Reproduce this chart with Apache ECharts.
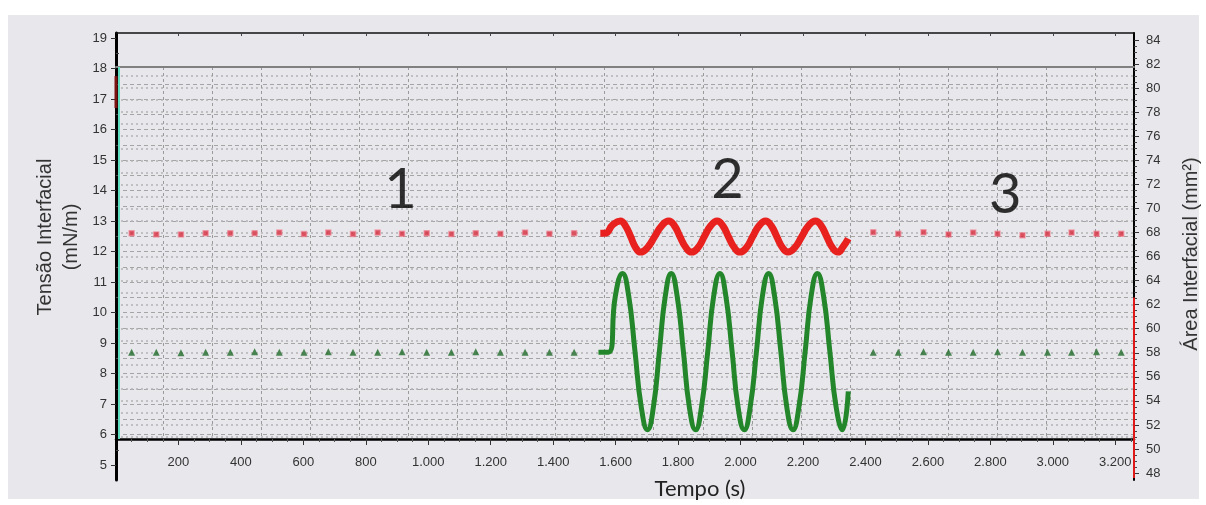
<!DOCTYPE html>
<html>
<head>
<meta charset="utf-8">
<script src="https://cdn.jsdelivr.net/npm/echarts@6/dist/echarts.min.js"></script>
<style>
html,body{margin:0;padding:0;background:#fff;}
#chart{width:1206px;height:505px;}
</style>
</head>
<body>
<div id="chart"></div>
<script>
// ---------------- DATA ----------------
const xTickLabels = [200,400,600,800,1000,1200,1400,1600,1800,2000,2200,2400,2600,2800,3000,3200];
const xMinorTicks = [50,100,150,250,300,350,450,500,550,650,700,750,850,900,950,1050,1100,1150,1250,1300,1350,1450,1500,1550,1650,1700,1750,1850,1900,1950,2050,2100,2150,2250,2300,2350,2450,2500,2550,2650,2700,2750,2850,2900,2950,3050,3100,3150,3250];
const xGridLines = [152,309,466,623,780,937,1094,1251,1408,1565,1722,1879,2036,2193,2350,2507,2664,2821,2978,3135];
const leftTickLabels = [5,6,7,8,9,10,11,12,13,14,15,16,17,18,19];
const leftMinorTicks = [5.5,6.5,7.5,8.5,9.5,10.5,11.5,12.5,13.5,14.5,15.5,16.5,17.5,18.5];
const leftGridLines = [6,6.5,7,7.5,8,8.5,9,9.5,10,10.5,11,11.5,12,12.5,13,13.5,14,14.5,15,15.5,16,16.5,17,17.5];
const rightTickLabels = [48,50,52,54,56,58,60,62,64,66,68,70,72,74,76,78,80,82,84];
const rightMinorTicks = [48.5,49,49.5,50.5,51,51.5,52.5,53,53.5,54.5,55,55.5,56.5,57,57.5,58.5,59,59.5,60.5,61,61.5,62.5,63,63.5,64.5,65,65.5,66.5,67,67.5,68.5,69,69.5,70.5,71,71.5,72.5,73,73.5,74.5,75,75.5,76.5,77,77.5,78.5,79,79.5,80.5,81,81.5,82.5,83,83.5];
const rightGridLines = [51,52,53,54,55,56,57,58,59,60,61,62,63,64,65,66,67,68,69,70,71,72,73,74,75,76,77,78,79,80,81];

// Region 1 (before oscillation)
const region1Time    = [50,129,208,287,366,444,523,602,680,759,838,916,995,1074,1152,1231,1310,1388,1467];
const region1Tension = [12.60,12.56,12.56,12.60,12.60,12.60,12.62,12.57,12.62,12.57,12.62,12.58,12.60,12.57,12.60,12.58,12.62,12.58,12.60];
const region1Area    = [58.05,58.05,58.00,58.05,58.05,58.08,58.05,58.05,58.08,58.05,58.05,58.08,58.05,58.05,58.08,58.05,58.05,58.05,58.05];

// Region 2 (oscillation)
const waveTensionTime = [1551,1567,1591,1615,1631,1648,1664,1680,1702,1725,1748,1770,1788,1806,1825,1843,1864,1884,1905,1925,1943,1961,1980,1998,2019,2039,2060,2080,2098,2116,2134,2152,2174,2196,2218,2240,2258,2276,2294,2312,2328,2345];
const waveTension     = [12.60,12.60,12.88,13.00,12.85,12.49,12.13,11.98,12.13,12.49,12.85,13.00,12.85,12.49,12.13,11.98,12.13,12.49,12.85,13.00,12.85,12.49,12.13,11.98,12.13,12.49,12.85,13.00,12.85,12.49,12.13,11.98,12.13,12.49,12.85,13.00,12.85,12.49,12.13,11.98,12.15,12.42];
const waveAreaTime = [1545,1577,1599,1622,1642,1662,1682,1702,1721,1740,1759,1778,1797,1817,1836,1856,1875,1895,1914,1934,1953,1973,1992,2012,2031,2051,2070,2090,2109,2129,2148,2168,2187,2207,2226,2246,2266,2286,2306,2326,2345];
const waveArea     = [58.05,58.05,62.7,64.6,62.7,58.1,53.5,51.6,53.5,58.1,62.7,64.6,62.7,58.1,53.5,51.6,53.5,58.1,62.7,64.6,62.7,58.1,53.5,51.6,53.5,58.1,62.7,64.6,62.7,58.1,53.5,51.6,53.5,58.1,62.7,64.6,62.7,58.1,53.5,51.6,54.8];

// Region 3 (after oscillation)
const region3Time    = [2425,2505,2586,2666,2745,2823,2903,2983,3060,3140,3219];
const region3Tension = [12.63,12.58,12.63,12.56,12.62,12.58,12.53,12.58,12.62,12.58,12.58];
const region3Area    = [58.05,58.05,58.08,58.05,58.05,58.08,58.05,58.05,58.05,58.08,58.05];

// Region annotations (time, tension-axis value)
const annotationText = ['1','2','3'];
const annotationTime = [911,1958,2848];
const annotationY    = [14.02,14.34,13.85];

// Cursor / range markers seen on the axes
const cursorTime = [10];
const leftAxisMark = [16.7, 17.75];
const rightAxisMark = [47.6, 62.6];

const X_MAX = 3260;

// ---------------- LAYOUT ----------------
const W = 1206, H = 505;
const PLOT_L = 116, PLOT_R = 1134;
const OUT_TOP = 33, OUT_BOT = 480;
const IN_TOP = 67, IN_BOT = 439;
const leftAt  = y => 19 - (y - 38) / 30.5;
const rightAt = y => 84 - (y - 40) / 12.03;

const txt = '#333';
const labelFont = 'Liberation Sans, Arial, sans-serif';
const titleFont = '20px "Liberation Sans", Arial, sans-serif';

function fmtX(v){
  if (v >= 1000) { return Math.floor(v/1000) + '.' + String(v % 1000).padStart(3,'0'); }
  return String(v);
}
const zip = (a,b) => a.map((v,i)=>[v,b[i]]);

const chart = echarts.init(document.getElementById('chart'), null, {renderer:'canvas', width:W, height:H});

const option = {
  backgroundColor: '#ffffff',
  animation: false,
  grid: [
    {left: PLOT_L, right: W - PLOT_R, top: OUT_TOP, bottom: H - OUT_BOT, containLabel:false, outerBoundsMode:'none'},
    {left: PLOT_L, right: W - PLOT_R, top: IN_TOP, bottom: H - IN_BOT, containLabel:false, outerBoundsMode:'none'}
  ],
  xAxis: [
    // 0: outer frame top line
    {type:'value', gridIndex:0, position:'top', min:0, max:X_MAX,
      axisLine:{show:true, onZero:false, lineStyle:{color:'#111', width:1.5}},
      axisTick:{show:true, inside:true, length:3, customValues:xTickLabels, lineStyle:{color:'#444'}},
      axisLabel:{show:false}, splitLine:{show:false}},
    // 1: main bottom time axis
    {type:'value', gridIndex:1, position:'bottom', min:0, max:X_MAX,
      axisLine:{show:true, onZero:false, lineStyle:{color:'#000', width:2.5}},
      axisTick:{show:true, length:6, customValues:xTickLabels, lineStyle:{color:'#333', width:1}},
      axisLabel:{show:true, customValues:xTickLabels, formatter:fmtX, margin:17, color:txt, fontSize:13, fontFamily:labelFont},
      splitLine:{show:false}},
    // 2: minor ticks on the time axis
    {type:'value', gridIndex:1, position:'bottom', min:0, max:X_MAX,
      axisLine:{show:false, onZero:false},
      axisTick:{show:true, length:3, customValues:xMinorTicks, lineStyle:{color:'#555', width:1}},
      axisLabel:{show:false}, splitLine:{show:false}},
    // 3: vertical grid lines + grey top line of data area
    {type:'value', gridIndex:1, position:'top', min:0, max:X_MAX,
      axisLine:{show:true, onZero:false, lineStyle:{color:'#808080', width:2}},
      axisTick:{show:false, customValues:xGridLines},
      axisLabel:{show:false},
      splitLine:{show:true, lineStyle:{color:'#9a9a9a', width:1, type:[3,3]}}}
  ],
  yAxis: [
    // 0: left labels
    {type:'value', gridIndex:0, position:'left', min:leftAt(OUT_BOT), max:leftAt(OUT_TOP),
      axisLine:{show:true, onZero:false, lineStyle:{color:'#000', width:3}},
      axisTick:{show:true, length:5, customValues:leftTickLabels, lineStyle:{color:'#333'}},
      axisLabel:{show:true, customValues:leftTickLabels, margin:9, color:txt, fontSize:13, fontFamily:labelFont},
      splitLine:{show:false}},
    // 1: left minor ticks
    {type:'value', gridIndex:0, position:'left', min:leftAt(OUT_BOT), max:leftAt(OUT_TOP),
      axisLine:{show:false, onZero:false},
      axisTick:{show:true, inside:true, length:3, customValues:leftMinorTicks, lineStyle:{color:'#444'}},
      axisLabel:{show:false}, splitLine:{show:false}},
    // 2: right labels
    {type:'value', gridIndex:0, position:'right', min:rightAt(OUT_BOT), max:rightAt(OUT_TOP),
      axisLine:{show:true, onZero:false, lineStyle:{color:'#000', width:2}},
      axisTick:{show:true, length:5, customValues:rightTickLabels, lineStyle:{color:'#333'}},
      axisLabel:{show:true, customValues:rightTickLabels, margin:12, color:txt, fontSize:13, fontFamily:labelFont},
      splitLine:{show:false}},
    // 3: right minor ticks
    {type:'value', gridIndex:0, position:'right', min:rightAt(OUT_BOT), max:rightAt(OUT_TOP),
      axisLine:{show:false, onZero:false},
      axisTick:{show:true, length:3, customValues:rightMinorTicks, lineStyle:{color:'#444'}},
      axisLabel:{show:false}, splitLine:{show:false}},
    // 4: tension data axis (inner)
    {type:'value', gridIndex:1, position:'left', min:leftAt(IN_BOT), max:leftAt(IN_TOP),
      axisLine:{show:false, onZero:false}, axisLabel:{show:false},
      axisTick:{show:false, customValues:leftGridLines},
      splitLine:{show:true, lineStyle:{color:'#a4a4a4', width:1, type:[4,3]}}},
    // 5: area data axis (inner)
    {type:'value', gridIndex:1, position:'right', min:rightAt(IN_BOT), max:rightAt(IN_TOP),
      axisLine:{show:false, onZero:false}, axisLabel:{show:false},
      axisTick:{show:false, customValues:rightGridLines},
      splitLine:{show:true, lineStyle:{color:'#b2b2b2', width:1.5, type:[2,3]}}}
  ],
  graphic: [
    {type:'rect', silent:true, z:-100, shape:{x:8, y:15, width:1191, height:484}, style:{fill:'#e8e7ec'}},
    {type:'text', silent:true, x:45, y:237, rotation:Math.PI/2, style:{text:'Tensão Interfacial', font:titleFont, fill:txt, align:'center', verticalAlign:'middle'}},
    {type:'text', silent:true, x:71, y:237, rotation:Math.PI/2, style:{text:'(mN/m)', font:titleFont, fill:txt, align:'center', verticalAlign:'middle'}},
    {type:'text', silent:true, x:1191, y:254, rotation:Math.PI/2, style:{text:'Área Interfacial (mm²)', font:titleFont, fill:txt, align:'center', verticalAlign:'middle'}},
    {type:'text', silent:true, x:700, y:489, style:{text:'Tempo (s)', font:'22px Lato, sans-serif', fill:'#222', align:'center', verticalAlign:'middle'}}
  ],
  series: [
    {type:'scatter', name:'Tensão 1', xAxisIndex:1, yAxisIndex:4, data:zip(region1Time, region1Tension),
      symbol:'rect', symbolSize:5, itemStyle:{color:'#d42a3c', borderColor:'rgba(240,120,135,0.7)', borderWidth:1.5},
      markLine:{silent:true, symbol:'none', label:{show:false}, lineStyle:{color:'#5fdcc0', width:2, type:'solid'},
        data: cursorTime.map(t=>({xAxis:t}))}},
    {type:'scatter', name:'Tensão 3', xAxisIndex:1, yAxisIndex:4, data:zip(region3Time, region3Tension),
      symbol:'rect', symbolSize:5, itemStyle:{color:'#d42a3c', borderColor:'rgba(240,120,135,0.7)', borderWidth:1.5}},
    {type:'scatter', name:'Área 1', xAxisIndex:1, yAxisIndex:5, data:zip(region1Time, region1Area),
      symbol:'triangle', symbolSize:7, itemStyle:{color:'#1f6b28'}},
    {type:'scatter', name:'Área 3', xAxisIndex:1, yAxisIndex:5, data:zip(region3Time, region3Area),
      symbol:'triangle', symbolSize:7, itemStyle:{color:'#1f6b28'}},
    {type:'line', name:'Área 2', xAxisIndex:1, yAxisIndex:5, data:zip(waveAreaTime, waveArea),
      smooth:0.5, showSymbol:false, lineStyle:{color:'#23862a', width:5}},
    {type:'line', name:'Tensão 2', xAxisIndex:1, yAxisIndex:4, data:zip(waveTensionTime, waveTension),
      smooth:0.5, showSymbol:false, lineStyle:{color:'#e8201e', width:7}},
    {type:'line', name:'left mark', xAxisIndex:1, yAxisIndex:4, clip:false, silent:true,
      data: leftAxisMark.map(v=>[0, v]), showSymbol:false, lineStyle:{color:'#7a1212', width:3}},
    {type:'line', name:'right mark', xAxisIndex:0, yAxisIndex:2, clip:false, silent:true,
      data: rightAxisMark.map(v=>[X_MAX, v]), showSymbol:false, lineStyle:{color:'#e01818', width:2}},
    {type:'scatter', name:'regions', xAxisIndex:1, yAxisIndex:4, silent:true,
      data: annotationText.map((s,i)=>({name:s, value:[annotationTime[i], annotationY[i]]})),
      symbolSize:0,
      label:{show:true, position:'inside', formatter:p=>p.name, color:'#000', fontSize:56, fontFamily:'Lato, sans-serif'}}
  ]
};
chart.setOption(option);
</script>
</body>
</html>
